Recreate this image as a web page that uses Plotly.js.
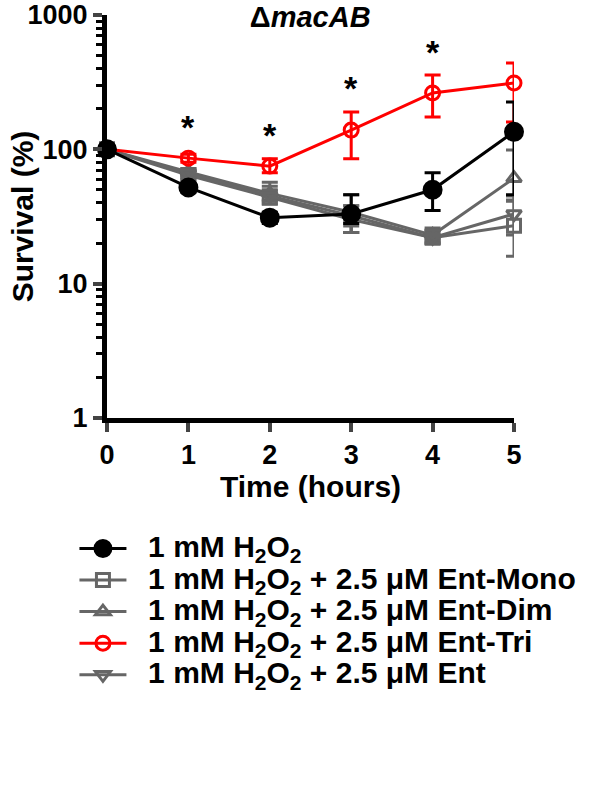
<!DOCTYPE html>
<html>
<head>
<meta charset="utf-8">
<script src="https://cdn.plot.ly/plotly-3.0.1.min.js"></script>
<style>
  html, body { margin: 0; padding: 0; background: #fff; }
  #chart { width: 600px; height: 786px; }
</style>
</head>
<body>
<div id="chart"></div>
<script>
// time points (hours)
const hours = [0, 1, 2, 3, 4, 5];

// survival (%), with upper / lower error
const h2o2      = [100, 52, 31, 33, 50, 135];
const h2o2Up    = [0, 4, 3, 13, 17, 90];
const h2o2Down  = [0, 4, 3, 5, 15, 89];

const mono      = [100, 64, 44, 30, 22, 27];
const monoUp    = [0, 4, 13, 8, 3, 15];
const monoDown  = [0, 4, 5, 6, 2, 11];

const dim       = [100, 68, 47, 34, 23, 61];
const dimUp     = [0, 4, 6, 12, 3, 38];
const dimDown   = [0, 4, 5, 10, 2, 20];

const tri       = [100, 86, 75, 139, 263, 312];
const triUp     = [0, 6, 10, 51, 95, 128];
const triDown   = [0, 6, 8, 54, 89, 152];

const ent       = [100, 66, 45, 32, 22, 33];
const entUp     = [0, 4, 5, 6, 3, 12];
const entDown   = [0, 4, 4, 8, 2, 10];

// significance stars
const starX = [1, 2, 3, 4];
const starY = [147, 128, 286, 531];

const seriesNames = [
  '1 mM H<sub>2</sub>O<sub>2</sub>',
  '1 mM H<sub>2</sub>O<sub>2</sub> + 2.5 μM Ent-Mono',
  '1 mM H<sub>2</sub>O<sub>2</sub> + 2.5 μM Ent-Dim',
  '1 mM H<sub>2</sub>O<sub>2</sub> + 2.5 μM Ent-Tri',
  '1 mM H<sub>2</sub>O<sub>2</sub> + 2.5 μM Ent'
];

const FONT = 'Liberation Sans, Arial, sans-serif';
const GRAY = '#666666';

// legend rows are tight in the original, so the text is drawn larger than the row height
function legendLabel(s) {
  return '<span style="font-size:30px">\u00a0\u00a0' + s + '</span>';
}

function series(y, up, down, name, color, symbol, size, rank) {
  return {
    x: hours, y: y, name: legendLabel(name),
    type: 'scatter', mode: 'lines+markers',
    cliponaxis: false,
    legendrank: rank,
    line: { color: color, width: 3 },
    marker: { symbol: symbol, size: size, color: color, line: { color: color, width: 3 } },
    error_y: { type: 'data', symmetric: false, array: up, arrayminus: down,
               color: color, thickness: 3, width: 8 }
  };
}

const traces = [
  series(mono, monoUp, monoDown, seriesNames[1], GRAY, 'square-open', 13, 2),
  series(dim,  dimUp,  dimDown,  seriesNames[2], GRAY, 'triangle-up-open', 13, 3),
  series(ent,  entUp,  entDown,  seriesNames[4], GRAY, 'triangle-down-open', 13, 5),
  series(tri,  triUp,  triDown,  seriesNames[3], '#ff0000', 'circle-open', 14, 4),
  series(h2o2, h2o2Up, h2o2Down, seriesNames[0], '#000000', 'circle', 17, 1)
];

const minorVals = [];
[1, 10, 100].forEach(d => { for (let k = 2; k <= 9; k++) minorVals.push(k * d); });

const annotations = starX.map((x, i) => ({
  x: x, y: Math.log10(starY[i]), xref: 'x', yref: 'y',
  text: '*', showarrow: false,
  font: { family: FONT, size: 34, color: '#000', weight: 'bold' }
}));

const layout = {
  width: 600, height: 786,
  margin: { l: 107, r: 86, t: 15, b: 368 },
  paper_bgcolor: '#fff', plot_bgcolor: '#fff',
  font: { family: FONT, color: '#000', weight: 'bold' },
  showlegend: true,
  title: {
    text: 'Δ<i>macAB</i>', x: 0.517, xanchor: 'center', y: 0.978, yanchor: 'middle',
    font: { family: FONT, size: 29, color: '#000', weight: 'bold' }
  },
  xaxis: {
    range: [0, 5], tickvals: hours, ticks: 'outside', ticklen: 9, tickwidth: 4,
    showline: true, linewidth: 5, linecolor: '#000', showgrid: false, zeroline: false,
    tickfont: { family: FONT, size: 27, weight: 'bold' },
    title: { text: 'Time (hours)', standoff: 6, font: { family: FONT, size: 30, weight: 'bold' } }
  },
  yaxis: {
    type: 'log', range: [0, 3], tickvals: [1, 10, 100, 1000], ticktext: ['1', '10', '100', '1000'],
    ticks: 'outside', ticklen: 9, tickwidth: 4,
    minor: { tickvals: minorVals, ticks: 'outside', ticklen: 6, tickwidth: 3, tickcolor: '#000', showgrid: false },
    showline: true, linewidth: 5, linecolor: '#000', showgrid: false, zeroline: false,
    tickfont: { family: FONT, size: 27, weight: 'bold' },
    title: { text: 'Survival (%)', font: { family: FONT, size: 30, weight: 'bold' } }
  },
  legend: {
    x: -0.08, y: -0.272, xanchor: 'left', yanchor: 'top',
    bgcolor: 'rgba(0,0,0,0)', itemwidth: 47,
    font: { family: FONT, size: 22, color: '#000', weight: 'bold' }
  },
  annotations: annotations
};

Plotly.newPlot('chart', traces, layout, { displayModeBar: false, staticPlot: true });
</script>
</body>
</html>
